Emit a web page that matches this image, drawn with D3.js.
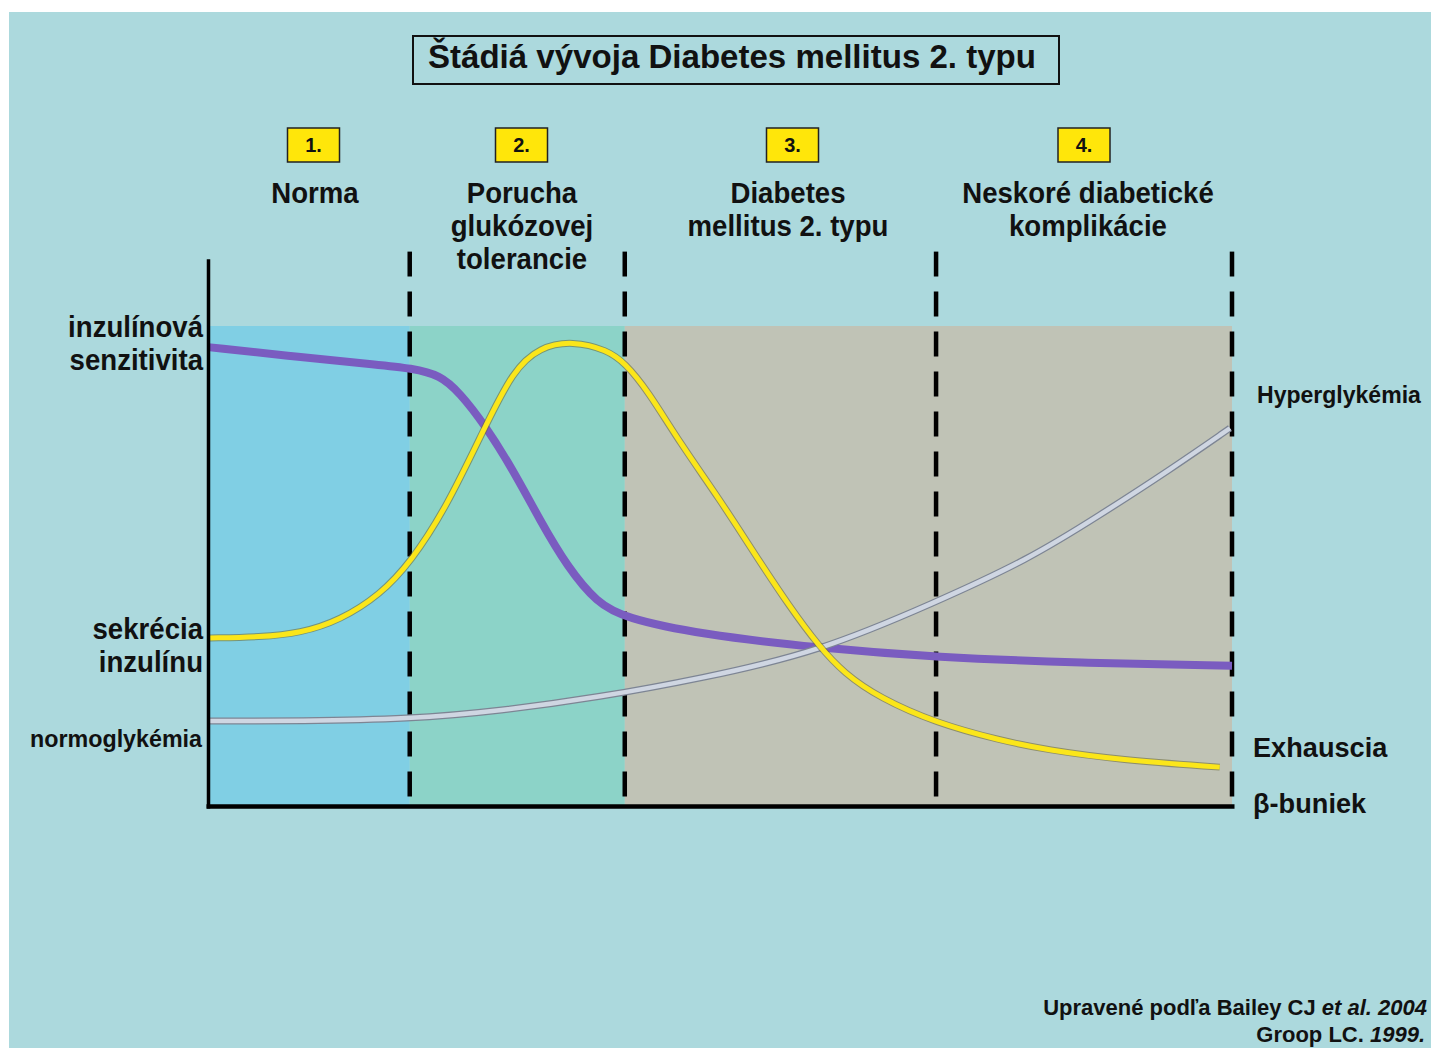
<!DOCTYPE html>
<html>
<head>
<meta charset="utf-8">
<script src="https://cdn.jsdelivr.net/npm/d3@7"></script>
<style>
  body { margin: 0; background: #fff; }
  text { font-family: "Liberation Sans", Arial, sans-serif; font-weight: bold; fill: #111; }
</style>
</head>
<body>
<script>
// stage boundaries (x in relative time units 0..100)
let stageEdges = [0, 19.7, 40.7, 71.1, 100];
let stageNums = ['1.', '2.', '3.', '4.'];
let stageNames = [['Norma'], ['Porucha', 'glukózovej', 'tolerancie'], ['Diabetes', 'mellitus 2. typu'], ['Neskoré diabetické', 'komplikácie']];
let stageColors = ['#80cfe4', '#8cd3c8', '#c0c3b6'];

// insulin sensitivity (purple)
let sensX = [0, 9.0, 16.8, 19.8, 22.7, 24.6, 26.9, 29.8, 32.4, 35.1, 38.0, 40.7, 48.0, 59.7, 71.1, 85.2, 100];
let sensY = [95.6, 93.5, 91.9, 91.2, 89.8, 86.0, 79.8, 70.0, 59.6, 49.8, 42.3, 39.2, 35.8, 32.9, 31.0, 29.8, 29.2];

// insulin secretion (yellow)
let secrX = [0.2, 5.1, 9.0, 12.9, 16.8, 19.8, 23.3, 26.9, 29.8, 32.4, 35.6, 39.0, 40.7, 42.9, 46.1, 50.0, 53.3, 56.8, 59.7, 62.1, 65.6, 71.1, 77.3, 81.9, 89.1, 98.8];
let secrY = [35.0, 35.2, 36.0, 38.7, 44.0, 50.8, 62.3, 78.3, 90.8, 95.6, 96.9, 95.0, 92.3, 86.7, 75.6, 63.8, 52.8, 41.5, 33.2, 27.7, 22.5, 17.3, 13.7, 11.7, 9.6, 8.1];

// glycaemia (grey)
let glyX = [0.2, 9.0, 19.7, 28.5, 38.3, 48.0, 59.7, 71.1, 80.0, 87.1, 93.9, 99.8];
let glyY = [17.7, 17.7, 18.1, 19.8, 22.7, 26.5, 32.1, 42.5, 51.2, 60.6, 70.0, 78.7];

var W = 1431, H = 1048;
var svg = d3.select('body').append('svg')
    .attr('width', W)
    .attr('height', H);

svg.append('rect').attr('x', 9).attr('y', 12).attr('width', W - 9).attr('height', H - 12).attr('fill', '#acd9dd');

var xScale = d3.scaleLinear().domain([0, 100]).range([208, 1232]);
var yScale = d3.scaleLinear().domain([0, 100]).range([806, 326]);

function label(g, txt, x, y, size, anchor, sx) {
    return g.append('text')
        .attr('transform', 'translate(' + x + ',' + y + ') scale(' + sx + ',1)')
        .attr('text-anchor', anchor)
        .style('font-size', size + 'px')
        .text(txt);
}

// shaded stage backgrounds
svg.selectAll('.stagebg')
    .data(stageColors)
    .enter().append('rect')
    .attr('class', 'stagebg')
    .attr('x', (d, i) => xScale(stageEdges[i]))
    .attr('width', (d, i) => xScale(i === 2 ? stageEdges[4] : stageEdges[i + 1]) - xScale(stageEdges[i]))
    .attr('y', yScale(100))
    .attr('height', yScale(0) - yScale(100))
    .attr('fill', d => d);

// dashed stage separators
svg.selectAll('.sep')
    .data(stageEdges.slice(1))
    .enter().append('line')
    .attr('class', 'sep')
    .attr('x1', d => xScale(d)).attr('x2', d => xScale(d))
    .attr('y1', yScale(115.5)).attr('y2', yScale(0))
    .attr('stroke', '#000')
    .attr('stroke-width', 4.5)
    .attr('stroke-dasharray', '25,15');

// curves
var line = d3.line()
    .x(d => xScale(d[0]))
    .y(d => yScale(d[1]))
    .curve(d3.curveBasis);

var sens = sensX.map((x, i) => [x, sensY[i]]);
var secr = secrX.map((x, i) => [x, secrY[i]]);
var gly = glyX.map((x, i) => [x, glyY[i]]);

svg.append('path').datum(sens).attr('d', line)
    .attr('fill', 'none').attr('stroke', '#7a5cc0').attr('stroke-width', 8);

svg.append('path').datum(gly).attr('d', line)
    .attr('fill', 'none').attr('stroke', '#7d8594').attr('stroke-width', 7);
svg.append('path').datum(gly).attr('d', line)
    .attr('fill', 'none').attr('stroke', '#cfd6e2').attr('stroke-width', 4.5);

svg.append('path').datum(secr).attr('d', line)
    .attr('fill', 'none').attr('stroke', '#6b6a3a').attr('stroke-opacity', 0.6).attr('stroke-width', 7);
svg.append('path').datum(secr).attr('d', line)
    .attr('fill', 'none').attr('stroke', '#fbe61a').attr('stroke-width', 5);

// axes (no ticks)
svg.append('g')
    .attr('transform', 'translate(' + xScale(0) + ',0)')
    .call(d3.axisLeft(d3.scaleLinear().domain([0, 114]).range([yScale(0) + 2, yScale(114)])).tickValues([]).tickSizeOuter(0))
    .select('.domain').attr('stroke', '#000').attr('stroke-width', 3.5);

svg.append('g')
    .attr('transform', 'translate(0,' + yScale(0) + ')')
    .call(d3.axisBottom(d3.scaleLinear().domain([0, 100]).range([xScale(0) - 2, xScale(100) + 2])).tickValues([]).tickSizeOuter(0))
    .select('.domain').attr('stroke', '#000').attr('stroke-width', 4.5);

// title
svg.append('rect').attr('x', 413).attr('y', 36).attr('width', 646).attr('height', 48)
    .attr('fill', 'none').attr('stroke', '#111').attr('stroke-width', 2);
svg.append('text')
    .attr('x', 428).attr('y', 68)
    .attr('textLength', 608).attr('lengthAdjust', 'spacingAndGlyphs')
    .style('font-size', '34px')
    .text('Štádiá vývoja Diabetes mellitus 2. typu');

// stage number boxes and names
var centres = [313.5, 521.5, 792.5, 1084];
var nameCentres = [315, 522, 788, 1088];
stageNums.forEach((n, i) => {
    svg.append('rect').attr('x', centres[i] - 26).attr('y', 128).attr('width', 52).attr('height', 34)
        .attr('fill', '#ffe60a').attr('stroke', '#222').attr('stroke-width', 1.5);
    label(svg, n, centres[i], 152, 21, 'middle', 0.95);
    stageNames[i].forEach((s, j) => {
        label(svg, s, nameCentres[i], 203 + j * 33, 30, 'middle', 0.92);
    });
});

// left labels
label(svg, 'inzulínová', 203, 337, 30, 'end', 0.92);
label(svg, 'senzitivita', 203, 370, 30, 'end', 0.92);
label(svg, 'sekrécia', 203, 639, 30, 'end', 0.92);
label(svg, 'inzulínu', 203, 672, 30, 'end', 0.92);
label(svg, 'normoglykémia', 202, 747, 24, 'end', 0.97);

// right labels
label(svg, 'Hyperglykémia', 1257, 403, 24, 'start', 0.96);
label(svg, 'Exhauscia', 1253, 757, 28, 'start', 0.97);
label(svg, 'β-buniek', 1253, 813, 28, 'start', 0.97);

// source
var s1 = svg.append('text').attr('x', 1427).attr('y', 1015).attr('text-anchor', 'end').style('font-size', '22px');
s1.append('tspan').text('Upravené podľa Bailey CJ ');
s1.append('tspan').style('font-style', 'italic').text('et al. 2004');
var s2 = svg.append('text').attr('x', 1425).attr('y', 1042).attr('text-anchor', 'end').style('font-size', '22px');
s2.append('tspan').text('Groop LC. ');
s2.append('tspan').style('font-style', 'italic').text('1999.');
</script>
</body>
</html>
